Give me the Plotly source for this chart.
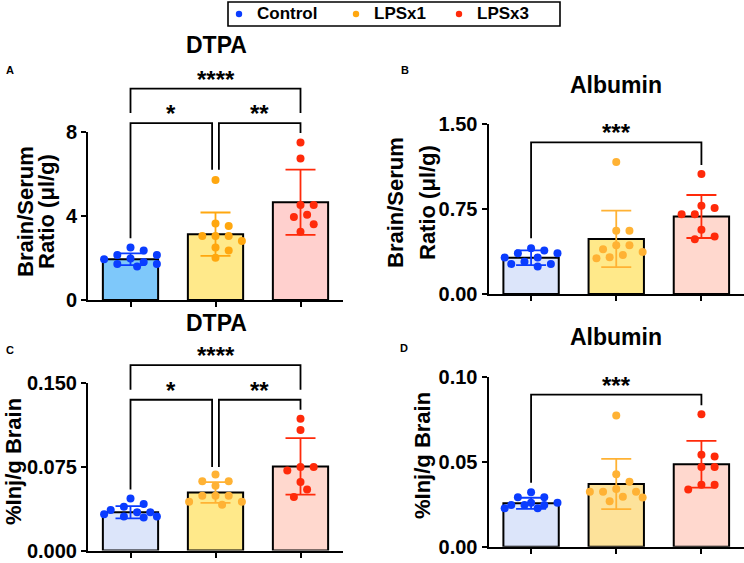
import plotly.graph_objects as go

W, H = 744, 563
FONT = "Liberation Sans, Arial, sans-serif"

groups = ["Control", "LPSx1", "LPSx3"]

# ---------------- Panel A : DTPA, Brain/Serum ratio ----------------
a_mean = [1.94, 3.13, 4.65]
a_sd = [0.28, 1.03, 1.55]
a_control = [2.49, 2.35, 2.14, 2.14, 1.97, 1.94, 1.81, 1.71, 1.71, 1.59]
a_lps1 = [5.71, 3.64, 3.52, 3.04, 3.04, 3.04, 2.80, 2.50, 2.35, 2.01]
a_lps3 = [7.49, 6.73, 4.52, 4.52, 4.05, 3.95, 3.60, 3.25]

# ---------------- Panel B : Albumin, Brain/Serum ratio ----------------
b_mean = [0.32, 0.487, 0.685]
b_sd = [0.065, 0.25, 0.19]
b_control = [0.405, 0.384, 0.36, 0.36, 0.322, 0.322, 0.286, 0.266, 0.266, 0.242]
b_lps1 = [1.166, 0.56, 0.56, 0.43, 0.43, 0.396, 0.372, 0.345, 0.325, 0.316]
b_lps3 = [1.06, 0.78, 0.76, 0.705, 0.705, 0.567, 0.508, 0.485]

# ---------------- Panel C : DTPA, %Inj/g Brain ----------------
c_mean = [0.0342, 0.0519, 0.0753]
c_sd = [0.0055, 0.0093, 0.0253]
c_control = [0.0466, 0.0416, 0.0392, 0.0363, 0.0342, 0.0342, 0.0324, 0.0304, 0.0304, 0.0295]
c_lps1 = [0.068, 0.062, 0.062, 0.058, 0.049, 0.049, 0.049, 0.0437, 0.0437, 0.041]
c_lps3 = [0.118, 0.108, 0.0747, 0.0747, 0.0717, 0.0614, 0.0546, 0.048]

# ---------------- Panel D : Albumin, %Inj/g Brain ----------------
d_mean = [0.0256, 0.037, 0.0487]
d_sd = [0.0033, 0.0148, 0.0138]
d_control = [0.0321, 0.0292, 0.0292, 0.026, 0.026, 0.0246, 0.0246, 0.0246, 0.0227, 0.0227]
d_lps1 = [0.0774, 0.0428, 0.0384, 0.0341, 0.0325, 0.0325, 0.0325, 0.0295, 0.029, 0.0268]
d_lps3 = [0.0782, 0.0543, 0.0532, 0.047, 0.047, 0.0366, 0.0366, 0.0337]

# significance comparisons: (from, to, label)
a_sig = [(0, 2, "****"), (0, 1, "*"), (1, 2, "**")]
b_sig = [(0, 2, "***")]
c_sig = [(0, 2, "****"), (0, 1, "*"), (1, 2, "**")]
d_sig = [(0, 2, "***")]

# bracket geometry (data units): top, left drop, right drop
a_brk = [(10.05, 8.89, 8.89), (8.41, 2.94, 6.19), (8.41, 6.19, 7.94)]
b_brk = [(1.34, 0.493, 1.14)]
c_brk = [(0.166, 0.144, 0.144), (0.135, 0.0546, 0.0747), (0.135, 0.0747, 0.126)]
d_brk = [(0.0898, 0.0378, 0.0835)]

legend_colors = ["#0A3CFF", "#FFA70F", "#FF2A0A"]
dot_A = ["#0A3CFF", "#FFA70F", "#FF2A0A"]
dot_B = ["#0A3CFF", "#FFB234", "#FF2A0A"]
bar_A = ["#7EC8FA", "#FFE98A", "#FFD0CE"]
bar_BC = ["#DCE5FA", "#FFE98A", "#FFD8CE"]
bar_D = ["#DCE5FA", "#FDE29A", "#FFD8CE"]

panels = [
    dict(letter="A", title="DTPA", mean=a_mean, sd=a_sd, pts=[a_control, a_lps1, a_lps3],
         sig=a_sig, brk=a_brk, ymax=8, tickvals=[0, 4, 8], fmt="d",
         xpx=(88, 343), ypx=(300, 131.7), bars=bar_A, dots=dot_A,
         ylab=["Brain/Serum", "Ratio (μl/g)"], ylab_x=[25, 46], ylab_y=212,
         title_pos=(216, 45), letter_pos=(10, 70)),
    dict(letter="B", title="Albumin", mean=b_mean, sd=b_sd, pts=[b_control, b_lps1, b_lps3],
         sig=b_sig, brk=b_brk, ymax=1.5, tickvals=[0, 0.75, 1.5], fmt=".2f",
         xpx=(488.5, 744), ypx=(294, 124.3), bars=bar_BC, dots=dot_B,
         ylab=["Brain/Serum", "Ratio (μl/g)"], ylab_x=[395, 427], ylab_y=203,
         title_pos=(616, 85), letter_pos=(405, 70)),
    dict(letter="C", title="DTPA", mean=c_mean, sd=c_sd, pts=[c_control, c_lps1, c_lps3],
         sig=c_sig, brk=c_brk, ymax=0.15, tickvals=[0, 0.075, 0.15], fmt=".3f",
         xpx=(88, 343), ypx=(550.5, 383), bars=bar_BC, dots=dot_B,
         ylab=["%Inj/g Brain"], ylab_x=[13], ylab_y=462,
         title_pos=(216, 323), letter_pos=(10, 350)),
    dict(letter="D", title="Albumin", mean=d_mean, sd=d_sd, pts=[d_control, d_lps1, d_lps3],
         sig=d_sig, brk=d_brk, ymax=0.10, tickvals=[0, 0.05, 0.10], fmt=".2f",
         xpx=(488.5, 744), ypx=(546.7, 377.3), bars=bar_D, dots=dot_B,
         ylab=["%Inj/g Brain"], ylab_x=[422], ylab_y=456,
         title_pos=(616, 337), letter_pos=(404, 348)),
]


def swarm(vals, px_per_unit, px_per_cat, diam=10.0, step=6.6, kmax=4):
    """Deterministic beeswarm offsets (category units)."""
    order = sorted(range(len(vals)), key=lambda i: -vals[i])
    placed = []
    offs = [0.0] * len(vals)
    cands = [0.0]
    for k in range(1, kmax + 1):
        cands += [k * step, -k * step]
    for i in order:
        y = vals[i] * px_per_unit
        best, bestd = None, -1
        for c in cands:
            dmin = min([((c - px) ** 2 + (y - py) ** 2) ** 0.5 for px, py in placed] or [99])
            if dmin >= diam:
                best = c
                break
            if dmin > bestd:
                best, bestd = c, dmin
        placed.append((best, y))
        offs[i] = best / px_per_cat
    return offs


fig = go.Figure()
layout = dict(width=W, height=H, margin=dict(l=0, r=0, t=0, b=0, autoexpand=False),
              template="none",
              plot_bgcolor="white", paper_bgcolor="white", barmode="overlay",
              showlegend=False, shapes=[], annotations=[],
              font=dict(family=FONT, color="black"))

for k, p in enumerate(panels):
    sfx = "" if k == 0 else str(k + 1)
    xa, ya = "x" + sfx, "y" + sfx
    x0, x1 = p["xpx"]
    yb, yt = p["ypx"]
    layout["xaxis" + sfx] = dict(
        domain=[x0 / W, x1 / W], range=[-0.5, 2.5], anchor=ya, automargin=False,
        showline=True, linecolor="black", linewidth=2, ticks="outside",
        ticklen=5, tickwidth=2, tickcolor="black", tickvals=[0, 1, 2],
        showticklabels=False, showgrid=False, zeroline=False, fixedrange=True)
    layout["yaxis" + sfx] = dict(
        domain=[1 - yb / H, 1 - yt / H], range=[0, p["ymax"]], anchor=xa,
        automargin=False, ticklabeloverflow="allow",
        showline=True, linecolor="black", linewidth=2, ticks="outside",
        ticklen=5, tickwidth=2, tickcolor="black", tickvals=p["tickvals"],
        tickformat=p["fmt"], tickfont=dict(size=20, weight="bold", family=FONT),
        showgrid=False, zeroline=False, fixedrange=True)

    px_unit = (yb - yt) / p["ymax"]
    px_cat = (x1 - x0) / 3.0

    for g in range(3):
        fig.add_trace(go.Bar(
            x=[g], y=[p["mean"][g]], width=0.65, xaxis=xa, yaxis=ya,
            marker=dict(color=p["bars"][g], line=dict(color="black", width=2)),
            error_y=dict(type="data", array=[p["sd"][g]], visible=True,
                         color=p["dots"][g], thickness=1.8, width=15),
            name=groups[g], hoverinfo="skip"))
    for g in range(3):
        vals = p["pts"][g]
        offs = swarm(vals, px_unit, px_cat)
        fig.add_trace(go.Scatter(
            x=[g + o for o in offs], y=vals, mode="markers", xaxis=xa, yaxis=ya,
            marker=dict(color=p["dots"][g], size=8, line=dict(width=0)),
            name=groups[g], cliponaxis=False, hoverinfo="skip"))

    # significance brackets
    for (i, j, lab), (top, ld, rd) in zip(p["sig"], p["brk"]):
        xi = i + (0.04 if (i == 1) else 0.0)
        xj = j - (0.04 if (j == 1) else 0.0)
        ym = p["ymax"]
        layout["shapes"].append(dict(
            type="path", xref=xa, yref=ya + " domain",
            path=f"M {xi},{ld/ym} L {xi},{top/ym} L {xj},{top/ym} L {xj},{rd/ym}",
            line=dict(color="black", width=1.8)))
        layout["annotations"].append(dict(
            text=lab, x=(xi + xj) / 2, y=top / ym, xref=xa, yref=ya + " domain",
            showarrow=False, yanchor="bottom", yshift=-6,
            font=dict(size=24, weight="bold", family=FONT)))

    # titles
    tx, ty = p["title_pos"]
    layout["annotations"].append(dict(
        text=p["title"], x=tx / W, y=1 - ty / H, xref="paper", yref="paper",
        showarrow=False, xanchor="center", yanchor="middle",
        font=dict(size=23, weight="bold", family=FONT)))
    lx, ly = p["letter_pos"]
    layout["annotations"].append(dict(
        text=p["letter"], x=lx / W, y=1 - ly / H, xref="paper", yref="paper",
        showarrow=False, xanchor="center", yanchor="middle",
        font=dict(size=11, weight="bold", family=FONT)))
    for lab, lxp in zip(p["ylab"], p["ylab_x"]):
        layout["annotations"].append(dict(
            text=lab, x=lxp / W, y=1 - p["ylab_y"] / H, xref="paper", yref="paper",
            showarrow=False, xanchor="center", yanchor="middle", textangle=-90,
            font=dict(size=22, weight="bold", family=FONT)))

# legend box (drawn in paper coordinates)
lg_box = (228, 2, 560, 26)
lg_dot_x = [239, 356, 459]
lg_text_x = [255, 372, 475]
lg_y = 14
layout["shapes"].append(dict(
    type="rect", xref="paper", yref="paper",
    x0=lg_box[0] / W, x1=lg_box[2] / W, y0=1 - lg_box[1] / H, y1=1 - lg_box[3] / H,
    line=dict(color="black", width=1.6), fillcolor="white"))
for g in range(3):
    r = 3.2
    layout["shapes"].append(dict(
        type="circle", xref="paper", yref="paper",
        x0=(lg_dot_x[g] - r) / W, x1=(lg_dot_x[g] + r) / W,
        y0=1 - (lg_y - r) / H, y1=1 - (lg_y + r) / H,
        fillcolor=legend_colors[g], line=dict(width=0)))
    layout["annotations"].append(dict(
        text=groups[g], x=lg_text_x[g] / W, y=1 - lg_y / H, xref="paper", yref="paper",
        showarrow=False, xanchor="left", yanchor="middle",
        font=dict(size=17, weight="bold", family=FONT)))

fig.update_layout(**layout)
fig.write_html("out.html")
